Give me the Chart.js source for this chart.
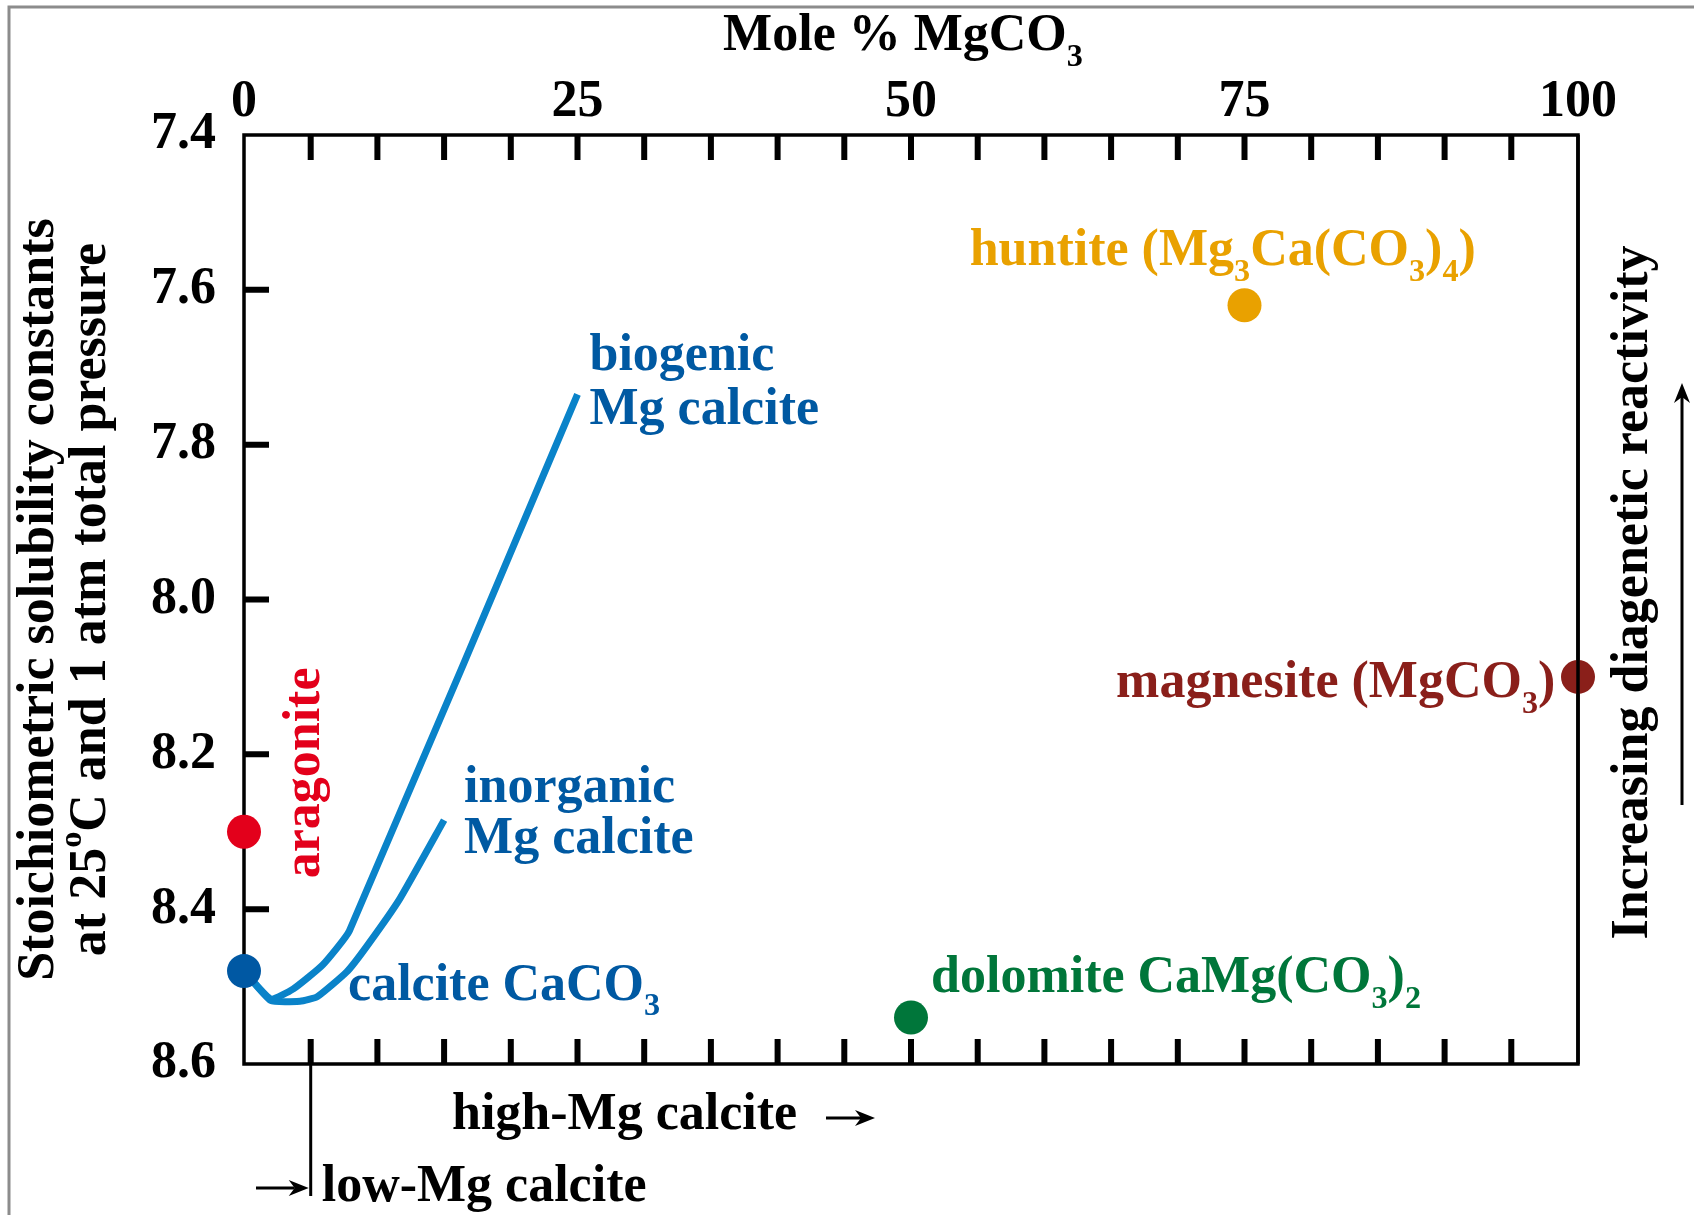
<!DOCTYPE html>
<html>
<head>
<meta charset="utf-8">
<script src="https://cdn.jsdelivr.net/npm/chart.js@4.4.1/dist/chart.umd.min.js"></script>
<style>
  html, body { margin: 0; padding: 0; background: #fff; }
  #wrap { width: 1694px; height: 1215px; position: relative; }
</style>
</head>
<body>
<div id="wrap"><canvas id="chart"></canvas></div>
<script>
// axis ranges and ticks
const xTickLabels = [0, 25, 50, 75, 100];
const xMinorTicks = [5, 10, 15, 20, 25, 30, 35, 40, 45, 50, 55, 60, 65, 70, 75, 80, 85, 90, 95];
const yTickValues = [7.4, 7.6, 7.8, 8.0, 8.2, 8.4, 8.6];

// mineral end members (mole % MgCO3, -log K)
const mineralNames = ['aragonite', 'calcite', 'dolomite', 'huntite', 'magnesite'];
const mineralX = [0, 0, 50, 75, 100];
const mineralY = [8.30, 8.48, 8.54, 7.62, 8.10];

// Mg calcite curves
const biogenicX = [0, 2.0, 3.7, 5.9, 7.9, 25.0];
const biogenicY = [8.48, 8.516, 8.503, 8.472, 8.428, 7.735];
const inorganicX = [0, 2.0, 4.2, 5.5, 7.7, 9.2, 11.7, 15.0];
const inorganicY = [8.48, 8.518, 8.519, 8.513, 8.481, 8.448, 8.386, 8.285];

const mineralColors = ['#e3001b', '#0058a3', '#00763a', '#e9a100', '#8a1f1a'];
const curveColor = '#0a83c9';
const labelBlue = '#0059a2';
const FAMILY = 'Liberation Serif';
const FS = 52;

function font(size) { return 'bold ' + size + 'px "' + FAMILY + '"'; }

function richWidth(ctx, parts, size) {
    let w = 0;
    parts.forEach(p => {
        ctx.font = font(p[1] ? size * 0.62 : size);
        w += ctx.measureText(p[0]).width;
    });
    return w;
}

function drawRich(ctx, parts, x, y, size, align) {
    const w = richWidth(ctx, parts, size);
    let cx = align === 'center' ? x - w / 2 : (align === 'right' ? x - w : x);
    ctx.textAlign = 'left';
    parts.forEach(p => {
        const kind = p[1];
        ctx.font = font(kind ? size * 0.62 : size);
        const dy = kind === 'sub' ? size * 0.3 : (kind === 'sup' ? -size * 0.38 : 0);
        ctx.fillText(p[0], cx, y + dy);
        cx += ctx.measureText(p[0]).width;
    });
}

function arrow(ctx, x1, y1, x2, y2) {
    const a = Math.atan2(y2 - y1, x2 - x1);
    const hl = 20, hw = 8;
    ctx.beginPath();
    ctx.moveTo(x1, y1);
    ctx.lineTo(x2 - Math.cos(a) * hl * 0.7, y2 - Math.sin(a) * hl * 0.7);
    ctx.stroke();
    ctx.beginPath();
    ctx.moveTo(x2, y2);
    ctx.lineTo(x2 - Math.cos(a) * hl - Math.sin(a) * hw, y2 - Math.sin(a) * hl + Math.cos(a) * hw);
    ctx.lineTo(x2 - Math.cos(a) * hl * 0.7, y2 - Math.sin(a) * hl * 0.7);
    ctx.lineTo(x2 - Math.cos(a) * hl + Math.sin(a) * hw, y2 - Math.sin(a) * hl - Math.cos(a) * hw);
    ctx.closePath();
    ctx.fill();
}

// text labels placed in data units
const textLabels = [
    { parts: [['biogenic']], x: 25.9, y: 7.704, color: labelBlue, align: 'left' },
    { parts: [['Mg calcite']], x: 25.9, y: 7.773, color: labelBlue, align: 'left' },
    { parts: [['inorganic']], x: 16.5, y: 8.261, color: labelBlue, align: 'left' },
    { parts: [['Mg calcite']], x: 16.5, y: 8.328, color: labelBlue, align: 'left' },
    { parts: [['calcite CaCO'], ['3', 'sub']], x: 7.8, y: 8.517, color: labelBlue, align: 'left' },
    { parts: [['dolomite CaMg(CO'], ['3', 'sub'], [')'], ['2', 'sub']], x: 51.5, y: 8.507, color: mineralColors[2], align: 'left' },
    { parts: [['huntite (Mg'], ['3', 'sub'], ['Ca(CO'], ['3', 'sub'], [')'], ['4', 'sub'], [')']], x: 54.4, y: 7.568, color: mineralColors[3], align: 'left' },
    { parts: [['magnesite (MgCO'], ['3', 'sub'], [')']], x: 98.3, y: 8.126, color: mineralColors[4], align: 'right' }
];

const overlay = {
    id: 'overlay',
    beforeDatasetsDraw(chart) {
        const ctx = chart.ctx;
        const a = chart.chartArea;
        const xs = chart.scales.x, ys = chart.scales.y;
        ctx.save();
        // outer frame
        ctx.strokeStyle = '#8c8c8c';
        ctx.lineWidth = 3;
        ctx.beginPath();
        ctx.moveTo(9, 1215);
        ctx.lineTo(9, 7);
        ctx.lineTo(1694, 7);
        ctx.stroke();

        // plot frame
        ctx.strokeStyle = '#000';
        ctx.lineWidth = 3.5;
        ctx.strokeRect(a.left, a.top, a.right - a.left, a.bottom - a.top);

        // inward ticks
        ctx.lineWidth = 6;
        ctx.beginPath();
        xMinorTicks.forEach(v => {
            const px = xs.getPixelForValue(v);
            ctx.moveTo(px, a.top);
            ctx.lineTo(px, a.top + 25);
            ctx.moveTo(px, a.bottom);
            ctx.lineTo(px, a.bottom - 25);
        });
        yTickValues.slice(1, -1).forEach(v => {
            const py = ys.getPixelForValue(v);
            ctx.moveTo(a.left, py);
            ctx.lineTo(a.left + 25, py);
        });
        ctx.stroke();

        // low-Mg / high-Mg calcite boundary
        const bx = xs.getPixelForValue(5);
        ctx.lineWidth = 3;
        ctx.beginPath();
        ctx.moveTo(bx, a.bottom);
        ctx.lineTo(bx, a.bottom + 132);
        ctx.stroke();
        ctx.restore();
    },
    afterDatasetsDraw(chart) {
        const ctx = chart.ctx;
        const a = chart.chartArea;
        const xs = chart.scales.x, ys = chart.scales.y;
        ctx.save();
        ctx.strokeStyle = '#000';
        ctx.lineWidth = 3.5;
        ctx.beginPath();
        ctx.moveTo(a.right, a.top);
        ctx.lineTo(a.right, a.bottom);
        ctx.stroke();

        ctx.textBaseline = 'alphabetic';
        textLabels.forEach(l => {
            ctx.fillStyle = l.color;
            drawRich(ctx, l.parts, xs.getPixelForValue(l.x), ys.getPixelForValue(l.y), FS, l.align);
        });

        // aragonite (vertical)
        ctx.save();
        ctx.translate(xs.getPixelForValue(4.6), ys.getPixelForValue(8.224));
        ctx.rotate(-Math.PI / 2);
        ctx.fillStyle = mineralColors[0];
        ctx.textBaseline = 'middle';
        drawRich(ctx, [['aragonite']], 0, 0, FS, 'center');
        ctx.restore();

        ctx.fillStyle = '#000';
        ctx.strokeStyle = '#000';
        ctx.lineWidth = 3;

        // top title
        ctx.textBaseline = 'alphabetic';
        drawRich(ctx, [['Mole % MgCO'], ['3', 'sub']], (a.left + a.right) / 2 - 8, 50, FS, 'center');

        // left title
        const my = (a.top + a.bottom) / 2;
        ctx.save();
        ctx.translate(40, my);
        ctx.rotate(-Math.PI / 2);
        ctx.textBaseline = 'middle';
        drawRich(ctx, [['Stoichiometric solubility constants']], 0, 0, FS, 'center');
        ctx.restore();
        ctx.save();
        ctx.translate(92, my);
        ctx.rotate(-Math.PI / 2);
        ctx.textBaseline = 'middle';
        drawRich(ctx, [['at 25'], ['o', 'sup'], ['C and 1 atm total pressure']], 0, 0, FS, 'center');
        ctx.restore();

        // right title and arrow
        ctx.save();
        ctx.translate(1634, my - 7);
        ctx.rotate(-Math.PI / 2);
        ctx.textBaseline = 'middle';
        drawRich(ctx, [['Increasing diagenetic reactivity']], 0, 0, FS, 'center');
        ctx.restore();
        arrow(ctx, 1682, 805, 1682, 383);

        // bottom labels
        ctx.textBaseline = 'alphabetic';
        drawRich(ctx, [['high-Mg calcite']], 452, a.bottom + 65, FS, 'left');
        arrow(ctx, 826, a.bottom + 54, 875, a.bottom + 54);
        const bx = xs.getPixelForValue(5);
        arrow(ctx, 256, a.bottom + 124, bx - 2, a.bottom + 124);
        drawRich(ctx, [['low-Mg calcite']], bx + 11, a.bottom + 137, FS, 'left');
        ctx.restore();
    }
};

const pointSets = mineralNames.map((name, i) => ({
    label: name,
    data: [{ x: mineralX[i], y: mineralY[i] }],
    backgroundColor: mineralColors[i],
    borderColor: mineralColors[i],
    pointRadius: 17,
    pointBorderWidth: 0,
    clip: false,
    order: 1
}));

function curve(name, xs, ys) {
    return {
        label: name,
        data: xs.map((x, i) => ({ x: x, y: ys[i] })),
        showLine: true,
        borderColor: curveColor,
        borderWidth: 7,
        borderJoinStyle: 'round',
        pointRadius: 0,
        tension: 0.15,
        clip: false,
        order: 2
    };
}

new Chart(document.getElementById('chart'), {
    type: 'scatter',
    data: {
        datasets: [
            curve('biogenic Mg calcite', biogenicX, biogenicY),
            curve('inorganic Mg calcite', inorganicX, inorganicY),
            ...pointSets
        ]
    },
    options: {
        responsive: true,
        maintainAspectRatio: false,
        animation: false,
        events: [],
        layout: { padding: { left: 0, top: 0, right: 116, bottom: 151 } },
        plugins: { legend: { display: false }, tooltip: { enabled: false } },
        scales: {
            x: {
                type: 'linear',
                position: 'top',
                min: 0,
                max: 100,
                grid: { display: false, drawTicks: false },
                border: { display: false },
                ticks: {
                    color: '#000',
                    padding: 1,
                    maxRotation: 0,
                    font: { family: FAMILY, weight: 'bold', size: FS }
                },
                afterBuildTicks: s => { s.ticks = xTickLabels.map(v => ({ value: v })); },
                afterFit: s => { s.height = 135; }
            },
            y: {
                type: 'linear',
                reverse: true,
                min: 7.4,
                max: 8.6,
                grid: { display: false, drawTicks: false },
                border: { display: false },
                ticks: {
                    color: '#000',
                    padding: 28,
                    font: { family: FAMILY, weight: 'bold', size: FS },
                    callback: v => v.toFixed(1)
                },
                afterBuildTicks: s => { s.ticks = yTickValues.map(v => ({ value: v })); },
                afterFit: s => { s.width = 244; }
            }
        }
    },
    plugins: [overlay]
});
</script>
</body>
</html>
